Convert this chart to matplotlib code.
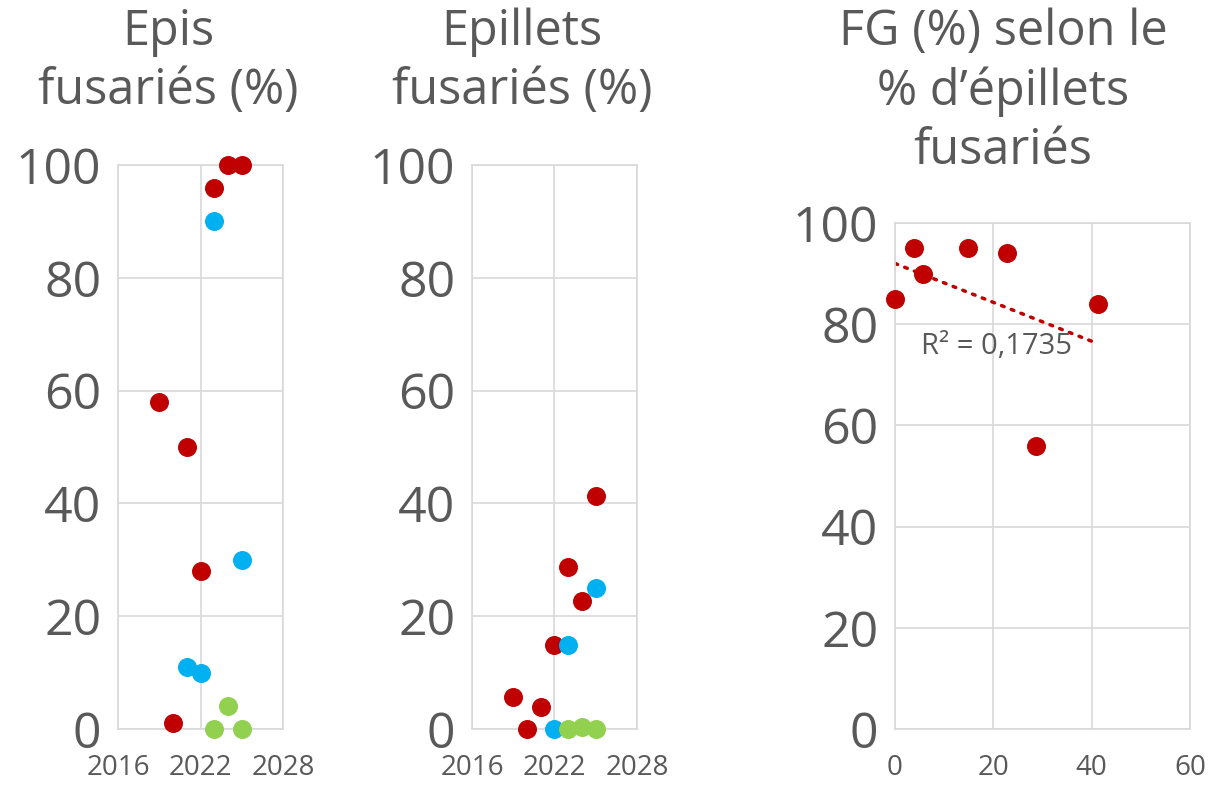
import matplotlib.pyplot as plt
import numpy as np

plt.rcParams["font.family"] = ["Open Sans", "DejaVu Sans"]
plt.rcParams["figure.dpi"] = 100

RED = "#C00000"
BLUE = "#00B0F0"
GREEN = "#92D050"
GRID = "#D9D9D9"
TXT = "#595959"

# Epis fusariés (%)
epis_red_year = [2019, 2020, 2021, 2022, 2023, 2024, 2025]
epis_red_val = [58, 1, 50, 28, 96, 100, 100]
epis_blue_year = [2021, 2022, 2023, 2025]
epis_blue_val = [11, 10, 90, 30]
epis_green_year = [2023, 2024, 2025]
epis_green_val = [0, 4, 0]

# Epillets fusariés (%)
epil_red_year = [2019, 2020, 2021, 2022, 2023, 2024, 2025]
epil_red_val = [5.7, 0, 3.9, 14.9, 28.7, 22.7, 41.3]
epil_blue_year = [2022, 2023, 2025]
epil_blue_val = [0, 14.9, 25]
epil_green_year = [2023, 2024, 2025]
epil_green_val = [0, 0.3, 0]

# FG (%) selon le % d'épillets fusariés
fg_x = [0, 3.9, 5.7, 14.9, 22.7, 28.7, 41.3]
fg_y = [85, 95, 90, 95, 94, 56, 84]

fig = plt.figure(figsize=(12.12, 7.85))
W, H = 1212, 785


def make_ax(left, right, top, bottom=729):
    return fig.add_axes([left / W, 1 - bottom / H, (right - left) / W, (bottom - top) / H])


def style(ax, xlim, xticks, ylim, yticks):
    ax.set_xlim(*xlim)
    ax.set_ylim(*ylim)
    ax.set_xticks(xticks)
    ax.set_yticks(yticks)
    ax.grid(True, color=GRID, linewidth=1.2)
    ax.set_axisbelow(True)
    for s in ax.spines.values():
        s.set_color(GRID)
        s.set_linewidth(1.2)
    ax.tick_params(length=0, colors=TXT)
    ax.tick_params(axis="y", labelsize=36, pad=12)
    ax.tick_params(axis="x", labelsize=20, pad=18)


ms = 160
ax1 = make_ax(118, 283, 165)
style(ax1, (2016, 2028), [2016, 2022, 2028], (0, 100), range(0, 101, 20))
ax1.scatter(epis_red_year, epis_red_val, s=ms, color=RED, zorder=3, clip_on=False)
ax1.scatter(epis_blue_year, epis_blue_val, s=ms, color=BLUE, zorder=3, clip_on=False)
ax1.scatter(epis_green_year, epis_green_val, s=ms, color=GREEN, zorder=3, clip_on=False)

ax2 = make_ax(472, 637, 165)
style(ax2, (2016, 2028), [2016, 2022, 2028], (0, 100), range(0, 101, 20))
ax2.scatter(epil_red_year, epil_red_val, s=ms, color=RED, zorder=3, clip_on=False)
ax2.scatter(epil_blue_year, epil_blue_val, s=ms, color=BLUE, zorder=3, clip_on=False)
ax2.scatter(epil_green_year, epil_green_val, s=ms, color=GREEN, zorder=3, clip_on=False)

ax3 = make_ax(895, 1190, 223)
style(ax3, (0, 60), [0, 20, 40, 60], (0, 100), range(0, 101, 20))
ax3.scatter(fg_x, fg_y, s=ms, color=RED, zorder=3, clip_on=False)
slope, inter = np.polyfit(fg_x, fg_y, 1)
xs = np.array([min(fg_x), max(fg_x)])
ax3.plot(xs, slope * xs + inter, color=RED, linewidth=2.5,
         linestyle=(0, (0.8, 2.2)), dash_capstyle="round", zorder=2)
ax3.text(5.2, 75.5, "R² = 0,1735", fontsize=21, color=TXT, va="center", ha="left")

tsize = 35
fig.text(168 / W, 1 - 62 / H, "Epis\nfusariés (%)", ha="center", va="center",
         fontsize=tsize, color=TXT, linespacing=1.25)
fig.text(522 / W, 1 - 62 / H, "Epillets\nfusariés (%)", ha="center", va="center",
         fontsize=tsize, color=TXT, linespacing=1.25)
fig.text(1003 / W, 1 - 92 / H, "FG (%) selon le\n% d’épillets\nfusariés", ha="center",
         va="center", fontsize=tsize, color=TXT, linespacing=1.25)

fig.savefig("out.png", dpi=100, facecolor="white")
